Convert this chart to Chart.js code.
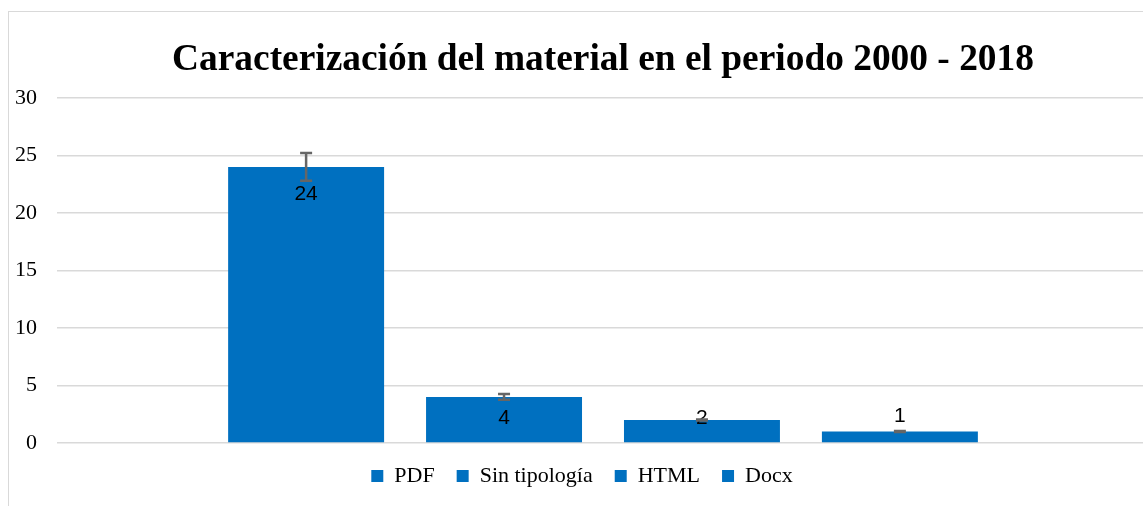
<!DOCTYPE html>
<html>
<head>
<meta charset="utf-8">
<script src="https://cdn.jsdelivr.net/npm/chart.js@4/dist/chart.umd.min.js"></script>
<style>
  html, body { margin: 0; padding: 0; background: #fff; overflow: hidden; width: 1143px; height: 506px; }
  #frame { position: absolute; left: 8px; top: 11px; width: 1200px; height: 560px;
           border-left: 1px solid #d9d9d9; border-top: 1px solid #d9d9d9; }
  #sensorChart { position: absolute; left: 8px; top: 11px; }
</style>
</head>
<body>
<div id="frame"></div>
<canvas id="sensorChart" width="1150" height="510"></canvas>
<script>
// Chart data
const categories = ['PDF', 'Sin tipología', 'HTML', 'Docx'];
const values = [24, 4, 2, 1];
const errorBars = [1.2, 0.25, 0.05, 0.05];
const yMin = 0;
const yMax = 30;
const yStep = 5;

// label nudges (px, from bar top) - labels in the original were moved by hand
const labelOffsets = [27, 21, -2, -15];

const barColor = '#0070C0';
const serif = '"Liberation Serif", "Times New Roman", serif';

// error bars + value labels
const extrasPlugin = {
    id: 'extras',
    afterDatasetsDraw(chart) {
        const c = chart.ctx;
        const yScale = chart.scales.y;
        chart.data.datasets.forEach((ds, i) => {
            const bar = chart.getDatasetMeta(i).data[0];
            const v = ds.data[0];
            const top = yScale.getPixelForValue(v);

            // value label
            c.save();
            c.fillStyle = '#000';
            c.font = '21px "Liberation Sans", Arial, sans-serif';
            c.textAlign = 'center';
            c.textBaseline = 'middle';
            c.fillText(String(v), bar.x, top + labelOffsets[i]);
            c.restore();

            // error bar
            const e = errorBars[i];
            const yHi = yScale.getPixelForValue(v + e);
            const yLo = yScale.getPixelForValue(v - e);
            c.save();
            c.strokeStyle = '#666666';
            c.lineWidth = 2.5;
            c.beginPath();
            c.moveTo(bar.x, yHi); c.lineTo(bar.x, yLo);
            c.moveTo(bar.x - 6, yHi); c.lineTo(bar.x + 6, yHi);
            c.moveTo(bar.x - 6, yLo); c.lineTo(bar.x + 6, yLo);
            c.stroke();
            c.restore();
        });
    }
};

const ctx = document.getElementById('sensorChart').getContext('2d');
const chart = new Chart(ctx, {
    type: 'bar',
    data: {
        labels: [''],
        datasets: categories.map((name, i) => ({
            label: name,
            data: [values[i]],
            backgroundColor: barColor,
            borderWidth: 0
        }))
    },
    options: {
        responsive: false,
        animation: false,
        devicePixelRatio: 1,
        categoryPercentage: 0.725,
        barPercentage: 0.788,
        layout: { padding: { left: 7, right: 9, top: 0, bottom: 24 } },
        plugins: {
            title: {
                display: true,
                text: 'Caracterización del material en el periodo 2000 - 2018',
                color: '#000',
                fullSize: false,
                font: { family: serif, size: 37.4, weight: 'bold' },
                padding: { top: 27, bottom: 15 }
            },
            legend: {
                position: 'bottom',
                labels: {
                    color: '#000',
                    font: { family: serif, size: 22 },
                    boxWidth: 12,
                    boxHeight: 12,
                    padding: 22
                }
            },
            tooltip: { enabled: false }
        },
        scales: {
            x: { display: false },
            y: {
                min: yMin,
                max: yMax,
                border: { display: false },
                grid: { color: '#d9d9d9', lineWidth: 1.5, drawTicks: false },
                ticks: {
                    stepSize: yStep,
                    padding: 20,
                    color: '#000',
                    font: { family: serif, size: 22 }
                },
                afterFit(scale) { scale.width = 42; }
            }
        }
    },
    plugins: [extrasPlugin]
});
</script>
</body>
</html>
